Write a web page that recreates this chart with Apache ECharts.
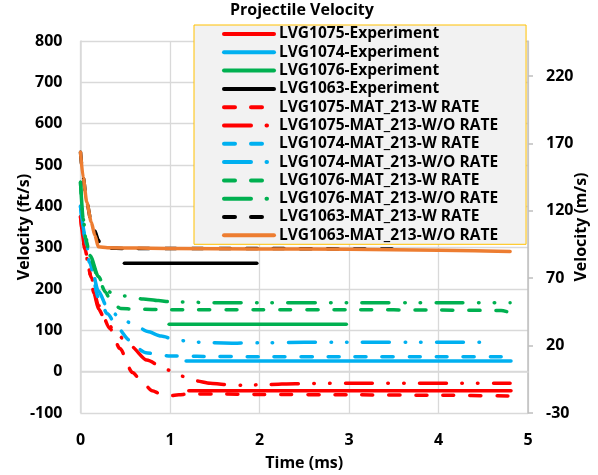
<!DOCTYPE html>
<html><head><meta charset="utf-8">
<script src="https://cdn.jsdelivr.net/npm/echarts@6.0.0/dist/echarts.min.js"></script>
<style>html,body{margin:0;padding:0;background:#fff}#c{width:598px;height:475px}</style>
</head><body><div id="c"></div>
<script>
// ---- Data (time in ms, velocity in ft/s) ----
const seriesNames = [
  'LVG1075-Experiment','LVG1074-Experiment','LVG1076-Experiment','LVG1063-Experiment',
  'LVG1075-MAT_213-W RATE','LVG1075-MAT_213-W/O RATE',
  'LVG1074-MAT_213-W RATE','LVG1074-MAT_213-W/O RATE',
  'LVG1076-MAT_213-W RATE','LVG1076-MAT_213-W/O RATE',
  'LVG1063-MAT_213-W RATE','LVG1063-MAT_213-W/O RATE'
];

const t_1075_exp = [1.21, 4.81];
const v_1075_exp = [-46, -46];
const t_1074_exp = [1.18, 4.81];
const v_1074_exp = [26, 26];
const t_1076_exp = [0.99, 2.97];
const v_1076_exp = [115, 115];
const t_1063_exp = [0.49, 1.97];
const v_1063_exp = [262, 262];

const t_1075_w = [0,0.05,0.12,0.2,0.33,0.44,0.58,0.7,0.8,0.9,1.0,1.1,1.2,1.5,2,3,4,4.8];
const v_1075_w = [375,295,228,160,104,56,-2,-28,-46,-54,-58,-56,-54,-54,-55,-56,-57,-59];
const t_1075_wo = [0,0.05,0.1,0.15,0.2,0.27,0.4,0.56,0.74,0.96,1.13,1.28,1.45,1.6,1.8,2.1,2.4,3,4,4.8];
const v_1075_wo = [375,300,240,190,152,128,92,62,28,5,-11,-22,-28,-31,-33,-31,-29,-28,-28,-28];

const t_1074_w = [0,0.05,0.1,0.2,0.3,0.42,0.54,0.62,0.73,0.89,1.0,1.3,2,3,4,4.7];
const v_1074_w = [400,325,265,180,140,105,77,58,46,40,38,37,36,36,36,36];
const t_1074_wo = [0,0.05,0.1,0.2,0.3,0.46,0.62,0.75,0.9,1.07,1.25,1.45,1.75,2.1,2.5,3,4,4.6];
const v_1074_wo = [400,330,275,195,155,127,111,97,86,77,72,70,69,70,71,71,71,71];

const t_1076_w = [0,0.03,0.06,0.11,0.2,0.28,0.35,0.45,0.6,1,2,3,4,4.7,4.8];
const v_1076_w = [458,370,320,275,225,192,165,153,151,150,150,150,149,148,143];
const t_1076_wo = [0,0.03,0.06,0.11,0.2,0.28,0.35,0.5,0.7,0.87,1.0,1.5,2,3,4,4.8];
const v_1076_wo = [458,372,322,280,230,200,190,183,176,172,169,167,167,167,167,167];

const t_1063_w = [0,0.03,0.07,0.12,0.16,0.2,0.23,0.3,0.5,1,2,3,3.55];
const v_1063_w = [531,470,410,362,340,318,302,299,298,298,298,297,297];
const t_1063_wo = [0,0.03,0.07,0.12,0.16,0.2,0.3,1,2,3,4,4.8];
const v_1063_wo = [531,470,410,362,330,302,300,298,297,296,294,291];

const leftTicks = [-100, 800, 100];   // min, max, interval (ft/s)
const rightTicks = [-30, 246, 50];    // min, max, interval (m/s)
const xTicks = [0, 5, 1];

// ---- Build ----
const zip = (t, v) => t.map((x, i) => [x, v[i]]);
const FONT = "'Open Sans', sans-serif";
const RED = '#FF0000', BLUE = '#00B0F0', GREEN = '#00B050', BLACK = '#000000', ORANGE = '#ED7D31';
const DASH = [11, 16];
const DASHDOT = [27, 15.5, 0.5, 15, 0.5, 15.5];

const defs = [
  [t_1075_exp, v_1075_exp, RED, 'solid'],
  [t_1074_exp, v_1074_exp, BLUE, 'solid'],
  [t_1076_exp, v_1076_exp, GREEN, 'solid'],
  [t_1063_exp, v_1063_exp, BLACK, 'solid'],
  [t_1075_w, v_1075_w, RED, DASH],
  [t_1075_wo, v_1075_wo, RED, DASHDOT],
  [t_1074_w, v_1074_w, BLUE, DASH],
  [t_1074_wo, v_1074_wo, BLUE, DASHDOT],
  [t_1076_w, v_1076_w, GREEN, DASH],
  [t_1076_wo, v_1076_wo, GREEN, DASHDOT],
  [t_1063_w, v_1063_w, BLACK, DASH],
  [t_1063_wo, v_1063_wo, ORANGE, 'solid']
];

const series = defs.map((d, i) => ({
  name: seriesNames[i],
  type: 'line',
  data: zip(d[0], d[1]),
  showSymbol: false,
  symbol: 'none',
  smooth: 0.25,
  smoothMonotone: 'x',
  color: d[2],
  lineStyle: { color: d[2], width: 3.5, type: d[3], cap: 'round', join: 'round' },
  itemStyle: { color: d[2] },
  z: 2
}));

const labelStyle = { fontFamily: FONT, fontWeight: 'bold', fontSize: 16, color: '#000' };

const option = {
  animation: false,
  backgroundColor: '#fff',
  title: {
    text: 'Projectile Velocity', left: 230, top: 2, padding: 0,
    textStyle: { fontFamily: FONT, fontWeight: 'bold', fontSize: 16, color: '#000' }
  },
  legend: {
    orient: 'vertical', left: 194, top: 25,
    padding: [1, 28, 1, 28],
    itemWidth: 50, itemHeight: 15, itemGap: 2.3,
    backgroundColor: '#F2F2F2', borderColor: '#FFC000', borderWidth: 1, borderRadius: 0,
    itemStyle: { opacity: 0, borderWidth: 0 },
    lineStyle: { width: 4 },
    textStyle: { fontFamily: FONT, fontWeight: 'bold', fontSize: 15.5, color: '#000', lineHeight: 15 },
    data: seriesNames
  },
  grid: { left: 80.5, right: 70, top: 41, bottom: 62, containLabel: false, outerBoundsMode: 'none' },
  xAxis: {
    type: 'value', min: xTicks[0], max: xTicks[1], interval: xTicks[2],
    name: 'Time (ms)', nameLocation: 'middle', nameGap: 42, nameTextStyle: labelStyle,
    nameMoveOverlap: false,
    axisLine: { show: true, lineStyle: { color: '#D9D9D9', width: 1.5 } },
    axisTick: { show: false },
    axisLabel: Object.assign({ margin: 19 }, labelStyle),
    splitLine: { show: true, lineStyle: { color: '#D9D9D9', width: 1.3 } }
  },
  yAxis: [{
    type: 'value', min: leftTicks[0], max: leftTicks[1], interval: leftTicks[2],
    name: 'Velocity (ft/s)', nameLocation: 'middle', nameGap: 48, nameRotate: 90, nameTextStyle: labelStyle,
    nameMoveOverlap: false,
    axisLine: { show: true, lineStyle: { color: '#D9D9D9', width: 1.5 } },
    axisTick: { show: false },
    axisLabel: Object.assign({ margin: 18 }, labelStyle),
    splitLine: { show: true, lineStyle: { color: '#D9D9D9', width: 1.3 } }
  }, {
    type: 'value', position: 'right', min: rightTicks[0], max: rightTicks[1], interval: rightTicks[2],
    name: 'Velocity (m/s)', nameLocation: 'middle', nameGap: 45, nameRotate: 90, nameTextStyle: labelStyle,
    nameMoveOverlap: false,
    axisLine: { show: true, lineStyle: { color: '#BFBFBF', width: 1.5 } },
    axisTick: { show: true, length: 5, lineStyle: { color: '#BFBFBF', width: 1.5 } },
    axisLabel: Object.assign({ margin: 18, showMaxLabel: false }, labelStyle),
    splitLine: { show: false }
  }],
  series: series
};

const chart = echarts.init(document.getElementById('c'), null, { renderer: 'canvas' });
chart.setOption(option);
</script>
</body></html>
